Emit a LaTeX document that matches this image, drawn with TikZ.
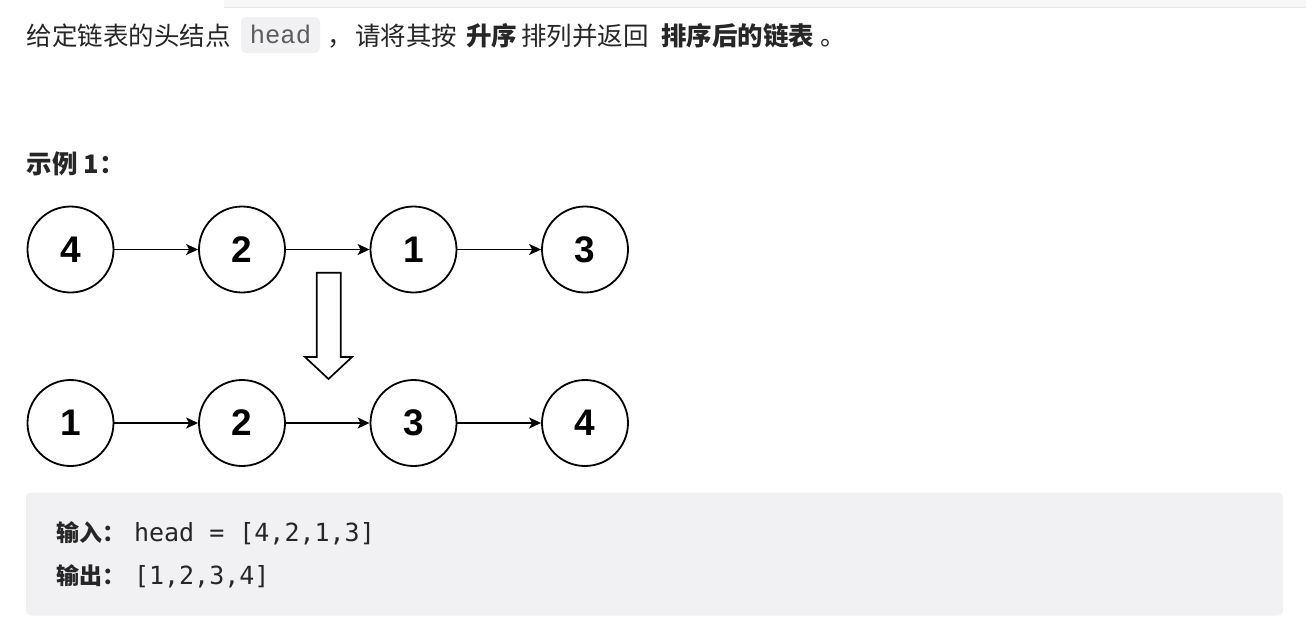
\documentclass[tikz,border=0pt]{standalone}
\usepackage{fontspec}
\usetikzlibrary{arrows.meta}
\newfontfamily\cjk{Noto Sans CJK SC}
\newfontfamily\monoA{Liberation Mono}
\newfontfamily\monoB{DejaVu Sans Mono}
\newfontfamily\arialf{Liberation Sans}
\definecolor{txt}{HTML}{262626}
\definecolor{codebg}{HTML}{F1F1F3}
\definecolor{codetxt}{HTML}{5C5C5C}
\definecolor{barbg}{HTML}{F6F6F7}
\definecolor{barline}{HTML}{E6E6E8}
\tikzset{
  body/.style={inner sep=0pt, outer sep=0pt, text=txt, font=\cjk\fontsize{25.5}{30}\selectfont},
  boxtxt/.style={inner sep=0pt, outer sep=0pt, text=txt, font=\cjk\fontsize{23}{28}\selectfont\bfseries},
  codetxtA/.style={inner sep=0pt, outer sep=0pt, text=codetxt, font=\monoA\fontsize{25.5}{30}\selectfont},
  codetxtB/.style={inner sep=0pt, outer sep=0pt, text=txt, font=\monoB\fontsize{25}{30}\selectfont},
  listnode/.style={circle, draw=black, line width=1.8pt, minimum size=86pt, inner sep=0pt, font=\arialf\bfseries\fontsize{37}{40}\selectfont},
  conn/.style={draw=black, line width=1.6pt, -{Stealth[length=12pt, width=11pt, inset=3pt]}},
  hollow/.style={draw=black, line width=1.7pt, fill=white, line join=miter}
}
\begin{document}
\begin{tikzpicture}[x=1pt,y=-1pt]
\useasboundingbox (0,0) rectangle (1306,630);
\fill[white] (0,0) rectangle (1306,630);
% top bar
\fill[barbg] (224,-3) rectangle (1306,7);
\draw[barline, line width=1pt] (224,7) -- (1306,7);
% first line
\node[body, anchor=base west] (t1) at (27,45) {给定链表的头结点};
\node[fill=codebg, rounded corners=5pt, minimum width=79pt, minimum height=36pt, inner sep=0pt] (hb) at (280.5,35) {};
\node[codetxtA, anchor=base] (hd) at (280.5,43.5) {head};
\node[body, anchor=base west] (t2) at (327,45) {，};
\node[body, anchor=base west] (t3) at (355,45) {请将其按};
\node[body, anchor=base west] (t4) at (466,45) {\bfseries 升序};
\node[body, anchor=base west] (t5) at (521,45) {排列并返回};
\node[body, anchor=base west] (t6) at (661,45) {\bfseries 排序后的链表};
\node[body, anchor=base west] (t7) at (820,45) {。};
% example title
\node[body, anchor=base west] (ex) at (27,173) {\bfseries 示例 1：};
% top row
\node[listnode] (a1) at (70.5,249.5) {4};
\node[listnode] (a2) at (242,249.5) {2};
\node[listnode] (a3) at (413.5,249.5) {1};
\node[listnode] (a4) at (585,249.5) {3};
\draw[conn] (a1) -- (a2);
\draw[conn] (a2) -- (a3);
\draw[conn] (a3) -- (a4);
% bottom row
\node[listnode] (b1) at (70.5,423) {1};
\node[listnode] (b2) at (242,423) {2};
\node[listnode] (b3) at (413.5,423) {3};
\node[listnode] (b4) at (585,423) {4};
\draw[conn] (b1) -- (b2);
\draw[conn] (b2) -- (b3);
\draw[conn] (b3) -- (b4);
% hollow down arrow
\draw[hollow] (316.7,272.7) -- (340.7,272.7) -- (340.7,357) -- (352,357) -- (328.5,379) -- (305,357) -- (316.7,357) -- cycle;
% example box
\fill[codebg, rounded corners=5pt] (26,492.5) rectangle (1283,615.5);
\node[boxtxt, anchor=base west] (in) at (56,541) {输入：};
\node[codetxtB, anchor=base west] (inv) at (134,541) {head = [4,2,1,3]};
\node[boxtxt, anchor=base west] (out) at (56,584) {输出：};
\node[codetxtB, anchor=base west] (outv) at (134,584) {[1,2,3,4]};
\end{tikzpicture}
\end{document}
